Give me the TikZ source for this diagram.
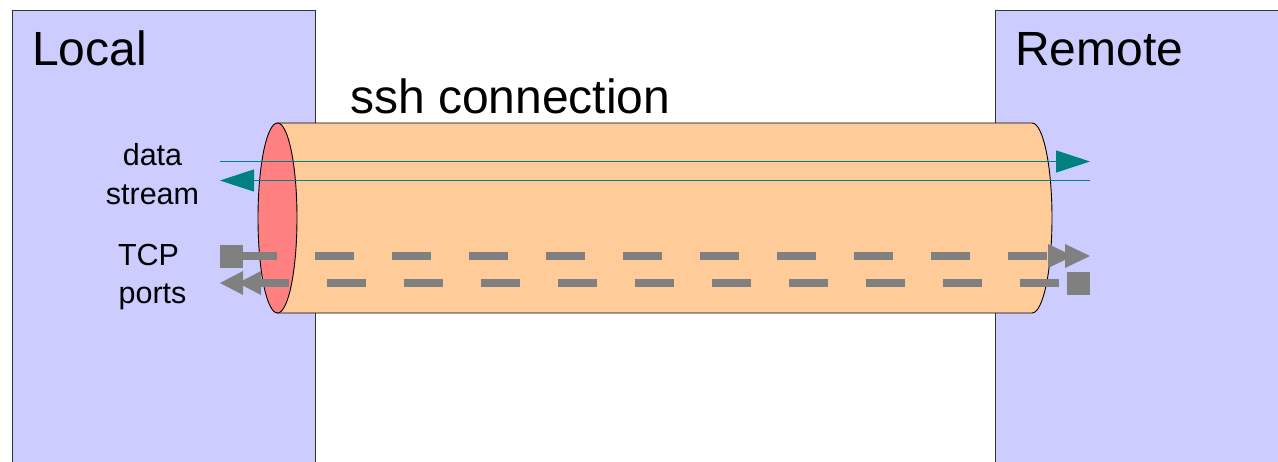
\documentclass[tikz,border=0pt]{standalone}
\usepackage{fontspec}
\setmainfont{Liberation Sans}
\usetikzlibrary{arrows.meta}
\definecolor{boxblue}{HTML}{CCCCFF}
\definecolor{tubeorange}{HTML}{FFCC99}
\definecolor{tubeend}{HTML}{FF8080}
\definecolor{streamteal}{HTML}{008080}
\definecolor{portgray}{HTML}{808080}
\tikzset{
  hostbox/.style={draw=black!80, line width=0.9pt, fill=boxblue},
  bigtext/.style={inner sep=0pt, font=\fontsize{48}{56}\selectfont},
  smalltext/.style={inner sep=0pt, anchor=base, font=\fontsize{30.5}{36}\selectfont},
  streamline/.style={draw=streamteal, line width=1.1pt},
  streamtip/.style={-{Triangle[length=34pt,width=22pt]}},
  tcpline/.style={draw=portgray, line width=7.5pt, dash pattern=on 39pt off 38pt},
  portsq/.style={fill=portgray, draw=none, minimum size=23pt, inner sep=0pt},
}
\begin{document}
\begin{tikzpicture}[x=1pt,y=-1pt]
\useasboundingbox (0,0) rectangle (1278,461);
% hosts
\path[hostbox] (12,10) rectangle (315,475);
\path[hostbox] (995,10) rectangle (1290,475);
\node[bigtext, anchor=base west] (local) at (32,65) {Local};
\node[bigtext, anchor=base west] (remote) at (1015,65) {Remote};
\node[bigtext, anchor=base west] (ssh) at (350,113) {ssh connection};
% tube
\draw[line width=0.9pt, fill=tubeorange] (277.5,123) -- (1032,123)
  arc[start angle=90, end angle=-90, x radius=20pt, y radius=95pt] -- (277.5,313) -- cycle;
\draw[line width=0.9pt, fill=tubeend] (277.5,218) ellipse [x radius=19.5pt, y radius=95pt];
% labels
\node[smalltext] (data) at (152.5,165) {data};
\node[smalltext] (stream) at (152.5,204) {stream};
\node[smalltext] (tcp) at (148.5,265) {TCP};
\node[smalltext] (ports) at (152.5,303) {ports};
% data stream
\coordinate (dsA) at (220,161.5);
\coordinate (dsB) at (1090,161.5);
\coordinate (dsC) at (1090,180.5);
\coordinate (dsD) at (220,180.5);
\draw[streamline, streamtip] (dsA) -- (dsB);
\draw[streamline, streamtip] (dsC) -- (dsD);
% TCP ports
\node[portsq] (sqL) at (231.5,256) {};
\node[portsq] (sqR) at (1078.5,283) {};
\coordinate (tA) at (238,256);
\coordinate (tB) at (1047,256);
\coordinate (tC) at (250,283);
\coordinate (tD) at (1059,283);
\draw[tcpline] (tA) -- (tB);
\draw[tcpline] (tC) -- (tD);
\fill[portgray] (1048,244) -- (1073,256) -- (1048,268) -- cycle;
\fill[portgray] (1065,244) -- (1090,256) -- (1065,268) -- cycle;
\fill[portgray] (243,271) -- (220,283) -- (243,295) -- cycle;
\fill[portgray] (261,271) -- (238,283) -- (261,295) -- cycle;
\end{tikzpicture}
\end{document}
